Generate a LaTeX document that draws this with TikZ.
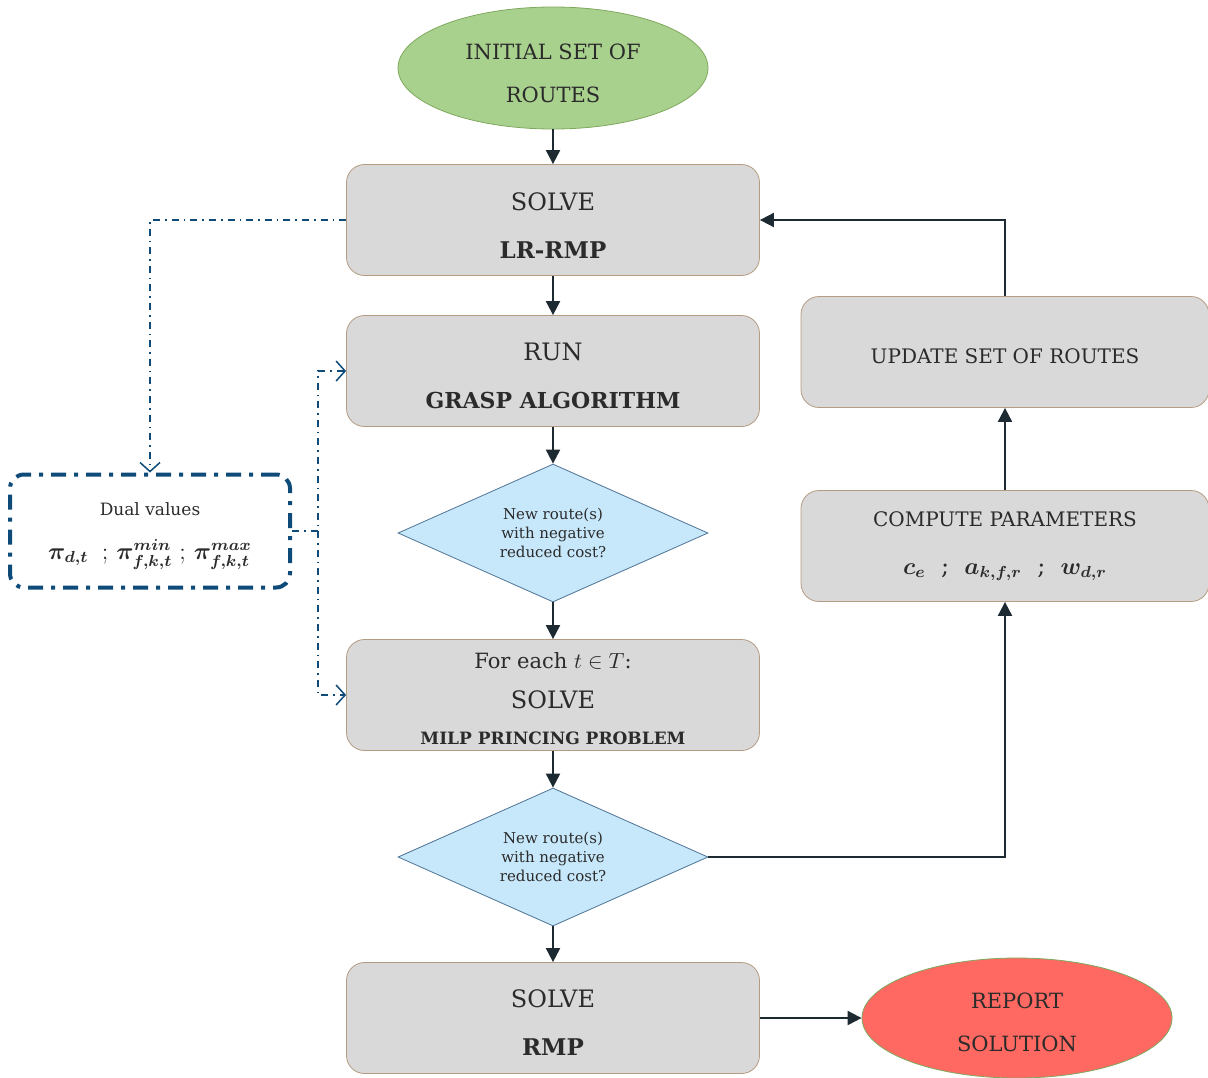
\documentclass[tikz,border=0pt]{standalone}
\usepackage{amsmath}
\usepackage{fontspec}
\setmainfont{DejaVu Serif}
\usetikzlibrary{shapes.geometric,arrows.meta}

\definecolor{txtgray}{HTML}{2B2B2B}
\definecolor{boxgray}{HTML}{D9D9D9}
\definecolor{boxedge}{HTML}{B49C82}
\definecolor{startgreen}{HTML}{A9D18E}
\definecolor{greenedge}{HTML}{7FA85E}
\definecolor{decblue}{HTML}{C7E7FA}
\definecolor{decedge}{HTML}{4D7294}
\definecolor{endred}{HTML}{FF6961}
\definecolor{dualblue}{HTML}{0E4B78}
\definecolor{flowdark}{HTML}{1E2A32}

\tikzset{
    procbox/.style={rectangle, rounded corners=9pt, draw=boxedge, fill=boxgray,
        minimum width=206.5pt, minimum height=55.5pt, inner sep=0pt},
    sidebox/.style={procbox, minimum width=204pt},
    startell/.style={ellipse, draw=greenedge, fill=startgreen, minimum width=155pt,
        minimum height=61pt, inner sep=0pt},
    endell/.style={startell, fill=endred, minimum height=60pt},
    decision/.style={diamond, draw=decedge, fill=decblue, minimum width=155pt,
        minimum height=69pt, aspect=2.2, align=center, inner sep=0pt, text=txtgray,
        font=\fontsize{7.5}{9.5}\selectfont},
    dualbox/.style={rectangle, rounded corners=7pt, draw=dualblue, line width=2pt,
        dash pattern=on 7.5pt off 4pt on 2pt off 4pt, minimum width=140pt,
        minimum height=56.5pt, inner sep=0pt},
    boxtext/.style={align=center, inner sep=0pt, text=txtgray, font=\fontsize{12}{14}\selectfont},
    elltext/.style={boxtext, font=\fontsize{10.5}{12}\selectfont},
    sidetext/.style={boxtext, font=\fontsize{10}{12}\selectfont},
    flow/.style={draw=flowdark, line width=1pt, -{Triangle[length=7pt,width=7pt]}},
    dualline/.style={draw=dualblue, line width=0.75pt,
        dash pattern=on 3.5pt off 2.5pt on 0.8pt off 2.5pt,
        -{Straight Barb[length=4.5pt,width=10pt]}},
}

\begin{document}
\begin{tikzpicture}[x=0.5pt,y=-0.5pt]
    \useasboundingbox (0,0) rectangle (1208,1077);

    \node[startell] (init) at (553,68) {};
    \node[elltext, yshift=-2.75pt] (init-txt) at (init) {INITIAL SET OF\\[9.5pt]ROUTES};

    \node[procbox] (lrrmp) at (553,220) {};
    \node[boxtext, yshift=-3pt] (lrrmp-txt) at (lrrmp)
        {SOLVE\\[10pt]{\fontsize{11.5}{14}\selectfont\textbf{LR-RMP}}};

    \node[procbox] (grasp) at (553,371) {};
    \node[boxtext, yshift=-2.5pt] (grasp-txt) at (grasp)
        {RUN\\[10pt]{\fontsize{11}{14}\selectfont\textbf{GRASP ALGORITHM}}};

    \node[decision] (newroute1) at (553,533) {New route(s)\\with negative\\reduced cost?};

    \node[procbox] (pricing) at (553,695) {};
    \node[boxtext, yshift=-2pt] (pricing-txt) at (pricing)
        {{\fontsize{10.5}{12}\selectfont For each $t \in T$:}\\[6pt]
        SOLVE\\[4pt]{\fontsize{8.5}{10}\selectfont\textbf{MILP PRINCING PROBLEM}}};

    \node[decision] (newroute2) at (553,857) {New route(s)\\with negative\\reduced cost?};

    \node[procbox] (rmp) at (553,1018) {};
    \node[boxtext, yshift=-2.5pt] (rmp-txt) at (rmp)
        {SOLVE\\[10pt]{\fontsize{11.5}{14}\selectfont\textbf{RMP}}};

    \node[endell] (report) at (1017,1018) {};
    \node[elltext, yshift=-2.25pt] (report-txt) at (report) {REPORT\\[9.5pt]SOLUTION};

    \node[sidebox] (update) at (1005,352) {};
    \node[sidetext, yshift=-2pt] (update-txt) at (update) {UPDATE SET OF ROUTES};

    \node[sidebox] (compute) at (1005,546) {};
    \node[sidetext] (compute-txt) at (compute)
        {COMPUTE PARAMETERS\\[12pt]\large$\boldsymbol{c_e}$ \ ; \ $\boldsymbol{a_{k,f,r}}$ \ ; \ $\boldsymbol{w_{d,r}}$};

    \node[dualbox] (dual) at (150,531) {};
    \node[boxtext, yshift=-2.5pt] (dual-txt) at (dual) {{\fontsize{8.5}{10}\selectfont Dual values}\\[8pt]
        \large$\boldsymbol{\pi_{d,t}}\;\;;\,\boldsymbol{\pi^{min}_{f,k,t}}\;;\,\boldsymbol{\pi^{max}_{f,k,t}}$};
    \coordinate (split) at (318,531);

    \draw[flow] (init) -- (lrrmp);
    \draw[flow] (lrrmp) -- (grasp);
    \draw[flow] (grasp) -- (newroute1);
    \draw[flow] (newroute1) -- (pricing);
    \draw[flow] (pricing) -- (newroute2);
    \draw[flow] (newroute2) -- (rmp);
    \draw[flow] (rmp) -- (report);
    \draw[flow] (newroute2.east) -| (compute.south);
    \draw[flow] (compute) -- (update);
    \draw[flow] (update.north) |- (lrrmp.east);

    \draw[dualline] (lrrmp.west) -| (dual.north);
    \draw[dualline] (dual.east) -- (split) |- (grasp.west);
    \draw[dualline] (split) |- (pricing.west);
\end{tikzpicture}
\end{document}
